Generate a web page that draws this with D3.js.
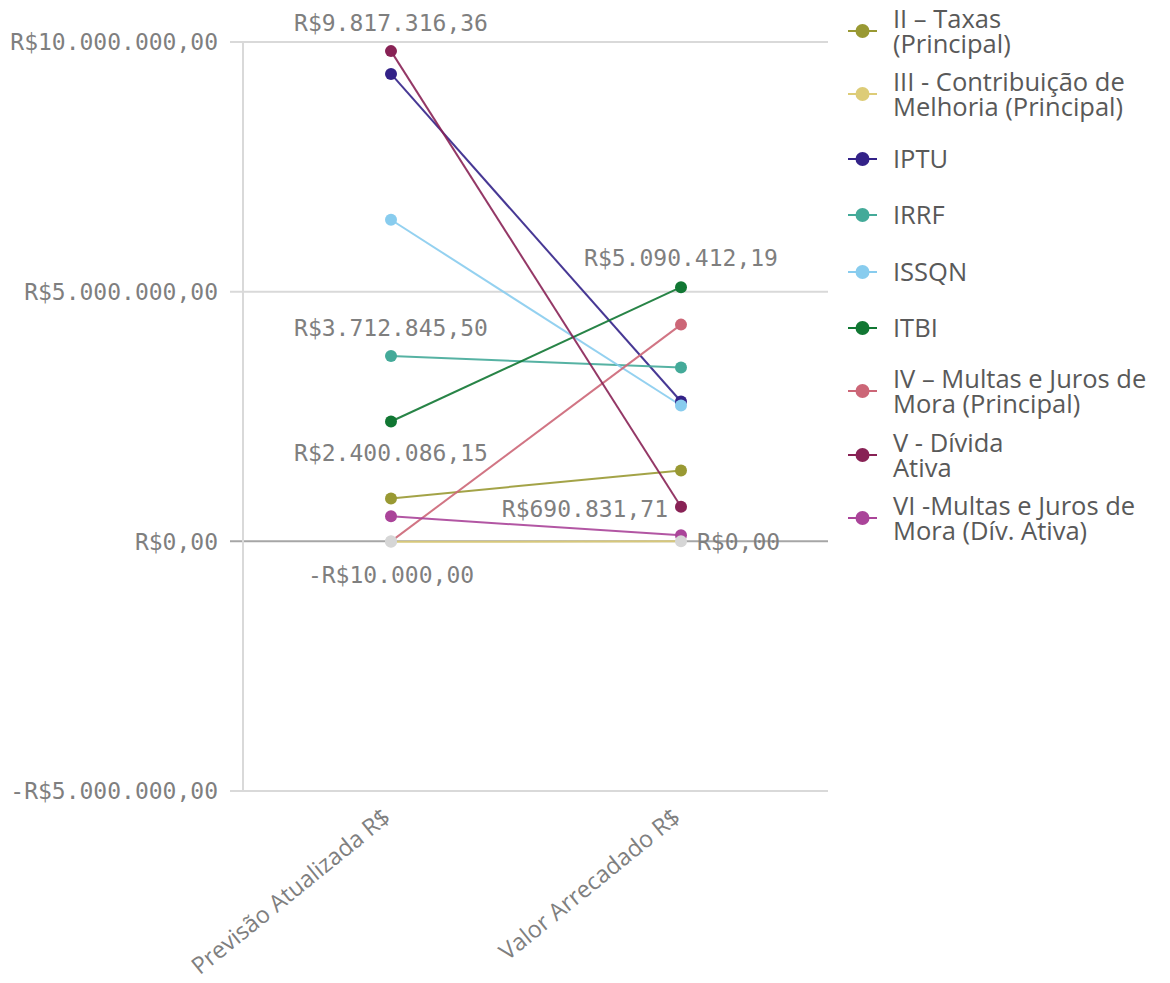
<!DOCTYPE html>
<html>
<head>
<meta charset="utf-8">
<script src="https://cdn.jsdelivr.net/npm/d3@7"></script>
<style>
  html, body { margin: 0; padding: 0; background: #fff; }
  svg { display: block; }
</style>
</head>
<body>
<svg id="chart" width="1170" height="983"></svg>
<script>
// Measures (x axis categories)
const measures = ["Previsão Atualizada R$", "Valor Arrecadado R$"];

// Revenue lines (legend order)
const seriesNames = [
  "II – Taxas (Principal)",
  "III - Contribuição de Melhoria (Principal)",
  "IPTU",
  "IRRF",
  "ISSQN",
  "ITBI",
  "IV – Multas e Juros de Mora (Principal)",
  "V - Dívida Ativa",
  "VI -Multas e Juros de Mora (Dív. Ativa)"
];

// Legend text, wrapped as displayed
const legendLines = [
  ["II – Taxas", "(Principal)"],
  ["III - Contribuição de", "Melhoria (Principal)"],
  ["IPTU"],
  ["IRRF"],
  ["ISSQN"],
  ["ITBI"],
  ["IV – Multas e Juros de", "Mora (Principal)"],
  ["V - Dívida", "Ativa"],
  ["VI -Multas e Juros de", "Mora (Dív. Ativa)"]
];

const seriesColors = ["#999933", "#ddcc77", "#332288", "#44aa99", "#88ccee", "#117733", "#cc6677", "#882255", "#aa4499"];

// Values per series: [Previsão Atualizada, Valor Arrecadado]
const previsao = [860000, -10000, 9360000, 3712845.50, 6440000, 2400086.15, 0, 9817316.36, 500000];
const arrecadado = [1420000, 0, 2800000, 3480000, 2720000, 5090412.19, 4340000, 690831.71, 120000];

// Y axis ticks
const yTicks = [-5000000, 0, 5000000, 10000000];

// Values shown with a text label: [series index, measure index]
const labelled = [[7, 0], [3, 0], [5, 0], [1, 0], [5, 1], [7, 1], [1, 1]];

const fmtNum = d3.formatLocale({ decimal: ",", thousands: ".", grouping: [3], currency: ["R$", ""] }).format(",.2f");
const brl = v => (v < 0 ? "-" : "") + "R$" + fmtNum(Math.abs(v));

const svg = d3.select("#chart");
const plot = { left: 243, right: 828, top: 42, bottom: 791 };

const y = d3.scaleLinear().domain([-5000000, 10000000]).range([plot.bottom, plot.top]);
const x = d3.scalePoint().domain(measures).range([391, 681]);

const monoFont = "'DejaVu Sans Mono', monospace";
const sansFont = "'Open Sans', Lato, sans-serif";

// Gridlines
svg.append("g").selectAll("line").data(yTicks).join("line")
  .attr("x1", plot.left - 13).attr("x2", plot.right)
  .attr("y1", d => y(d)).attr("y2", d => y(d))
  .attr("stroke", d => d === 0 ? "#a6a6a6" : "#d9d9d9")
  .attr("stroke-width", 2);

// Y axis line
svg.append("line")
  .attr("x1", plot.left).attr("x2", plot.left)
  .attr("y1", plot.top).attr("y2", plot.bottom)
  .attr("stroke", "#d9d9d9").attr("stroke-width", 2);

// Y axis tick labels
svg.append("g").selectAll("text").data(yTicks).join("text")
  .attr("x", 218).attr("y", d => y(d))
  .attr("dy", "0.36em")
  .attr("text-anchor", "end")
  .attr("font-family", monoFont).attr("font-size", 23)
  .attr("fill", "#7f7f7f")
  .text(d => brl(d));

// Category labels
svg.append("g").selectAll("text").data(measures).join("text")
  .attr("transform", d => `translate(${x(d) + 1},${plot.bottom + 29}) rotate(-39)`)
  .attr("text-anchor", "end")
  .attr("font-family", sansFont).attr("font-size", 23.5)
  .attr("fill", "#7f7f7f")
  .text(d => d);

const data = seriesNames.map((name, i) => ({
  name, color: seriesColors[i],
  values: [previsao[i], arrecadado[i]]
}));

const line = d3.line().x((d, j) => x(measures[j])).y(d => y(d));

// Slope lines
svg.append("g").selectAll("path").data(data).join("path")
  .attr("d", d => line(d.values))
  .attr("fill", "none")
  .attr("stroke", d => d.color)
  .attr("stroke-width", 2)
  .attr("stroke-opacity", 0.9);

// Points; near-zero values are drawn in neutral grey
const pts = [];
data.forEach((d, i) => d.values.forEach((v, j) => pts.push({ i, j, v, color: d.color })));
pts.sort((a, b) => Math.abs(b.v) - Math.abs(a.v));
svg.append("g").selectAll("circle").data(pts).join("circle")
  .attr("cx", d => x(measures[d.j]))
  .attr("cy", d => y(d.v))
  .attr("r", 6)
  .attr("fill", d => Math.abs(d.v) < 50000 ? "#d6d6d6" : d.color);

// Value labels
const labelPlacement = {
  "7,0": { dx: 0, dy: -20, anchor: "middle" },
  "3,0": { dx: 0, dy: -20, anchor: "middle" },
  "5,0": { dx: 0, dy: 40, anchor: "middle" },
  "1,0": { dx: 0, dy: 41, anchor: "middle" },
  "5,1": { dx: 0, dy: -21, anchor: "middle" },
  "7,1": { dx: -13, dy: 10, anchor: "end" },
  "1,1": { dx: 16, dy: 9, anchor: "start" }
};
svg.append("g").selectAll("text").data(labelled).join("text")
  .each(function ([i, j]) {
    const p = labelPlacement[i + "," + j];
    const v = j === 0 ? previsao[i] : arrecadado[i];
    d3.select(this)
      .attr("x", x(measures[j]) + p.dx)
      .attr("y", y(v) + p.dy)
      .attr("text-anchor", p.anchor)
      .text(brl(v));
  })
  .attr("font-family", monoFont).attr("font-size", 23)
  .attr("fill", "#7f7f7f");

// Legend
const legendY = [31, 94, 159, 215, 272, 328, 391, 455, 518];
const lineGap = 25;
const lg = svg.append("g").selectAll("g").data(data).join("g")
  .attr("transform", (d, i) => `translate(848,${legendY[i]})`);
lg.append("line").attr("x1", 0).attr("x2", 29).attr("y1", 0).attr("y2", 0)
  .attr("stroke", d => d.color).attr("stroke-width", 2);
lg.append("circle").attr("cx", 14.5).attr("cy", 0).attr("r", 7).attr("fill", d => d.color);
lg.each(function (d, i) {
  const lines = legendLines[i];
  const top = -(lines.length - 1) * lineGap / 2;
  d3.select(this).selectAll("text").data(lines).join("text")
    .attr("x", 45)
    .attr("y", (s, k) => top + k * lineGap)
    .attr("dy", "0.36em")
    .attr("font-family", sansFont).attr("font-size", 25.5)
    .attr("fill", "#595959")
    .text(s => s);
});
</script>
</body>
</html>
